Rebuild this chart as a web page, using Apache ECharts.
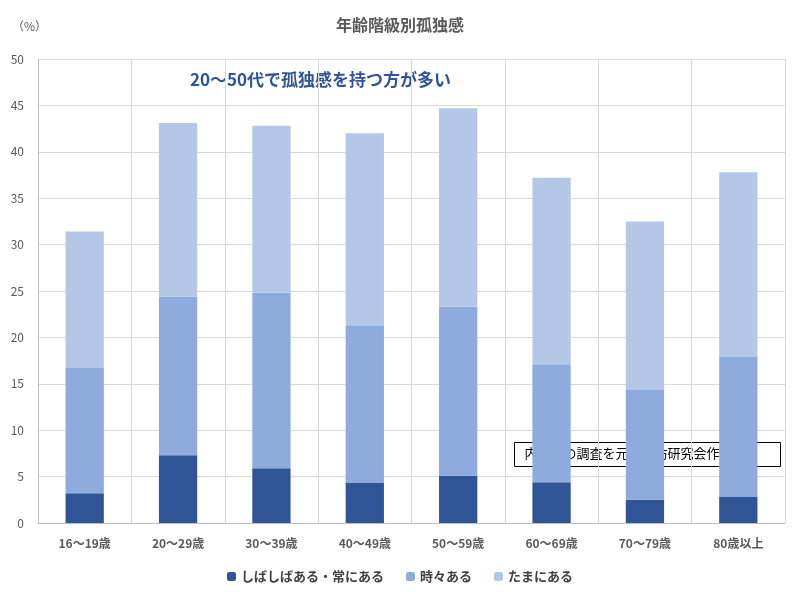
<!DOCTYPE html>
<html><head><meta charset="utf-8">
<script src="https://cdn.jsdelivr.net/npm/echarts@6/dist/echarts.min.js"></script>
<style>body{margin:0}#c{width:800px;height:600px}</style></head>
<body><div id="c"></div>
<script>
const categories=['16〜19歳','20〜29歳','30〜39歳','40〜49歳','50〜59歳','60〜69歳','70〜79歳','80歳以上'];
const often=[3.2,7.3,5.9,4.3,5.1,4.4,2.5,2.8];
const sometimes=[13.5,17.1,18.9,17.0,18.2,12.7,11.9,15.1];
const occasionally=[14.7,18.7,18.0,20.7,21.4,20.1,18.1,19.9];
const seriesNames=['しばしばある・常にある','時々ある','たまにある'];
const colors=['#2F5597','#8FAADC','#B4C7E7'];
const font='"Noto Sans CJK JP", sans-serif';
const chart=echarts.init(document.getElementById('c'));
chart.setOption({
  backgroundColor:'#fff',
  textStyle:{fontFamily:font},
  title:{text:'年齢階級別孤独感',left:'center',top:12,textStyle:{fontSize:16,fontWeight:'bold',color:'#595959',fontFamily:font}},
  grid:{left:38,right:15,top:59,bottom:77},
  legend:{bottom:12,itemWidth:9,itemHeight:9,itemGap:22,textStyle:{fontSize:13,color:'#404040',fontWeight:'bold'},data:seriesNames},
  xAxis:{type:'category',data:categories,axisTick:{show:true,length:0},axisLine:{lineStyle:{color:'#bfbfbf'}},
    splitLine:{show:true,lineStyle:{color:'#d9d9d9'}},
    axisLabel:{color:'#595959',fontSize:12,fontWeight:'bold',margin:14}},
  yAxis:{type:'value',min:0,max:50,interval:5,axisLine:{show:true,lineStyle:{color:'#bfbfbf'}},
    splitLine:{lineStyle:{color:'#d9d9d9'}},axisLabel:{color:'#595959',fontSize:12,margin:14}},
  graphic:[
    {type:'text',left:12,top:20,style:{text:'（%）',fontSize:12,fill:'#595959',fontFamily:font}},
    {type:'text',left:190,top:71,style:{text:'20〜50代で孤独感を持つ方が多い',fontSize:17,fontWeight:'bold',fill:'#2F5597',fontFamily:font}},
    {type:'group',left:514,top:442,children:[
      {type:'rect',shape:{x:0,y:0,width:266,height:24},style:{fill:'#fff',stroke:'#000',lineWidth:1}},
      {type:'text',x:10,y:4,style:{text:'内閣府の調査を元に宿坊研究会作成',fontSize:13,fill:'#000',fontFamily:font}}
    ]}
  ],
  series:[often,sometimes,occasionally].map((d,i)=>({name:seriesNames[i],type:'bar',stack:'a',data:d,barWidth:'41%',itemStyle:{color:colors[i]}}))
});
</script></body></html>
